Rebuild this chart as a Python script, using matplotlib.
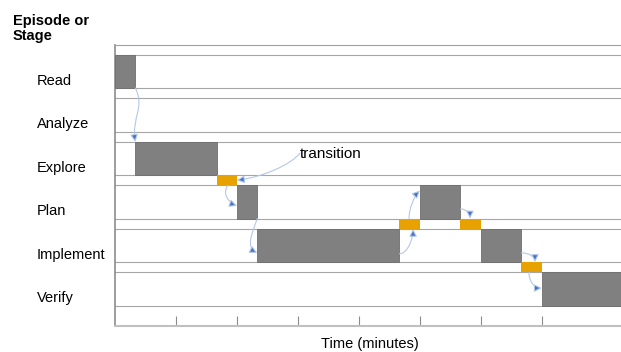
import numpy as np
import matplotlib.pyplot as plt
from matplotlib.patches import FancyArrowPatch
from matplotlib.path import Path

plt.rcParams['font.family'] = ['Liberation Sans', 'DejaVu Sans']

stages = ['Read', 'Analyze', 'Explore', 'Plan', 'Implement', 'Verify']

# episodes spent inside a stage (minutes)
ep_stage = ['Read', 'Explore', 'Plan', 'Implement', 'Plan', 'Implement', 'Verify']
ep_start = [0, 1, 6, 7, 15, 18, 21]
ep_dur = [1, 4, 1, 7, 2, 2, 4]

# transitions between two stages
tr_from = ['Explore', 'Implement', 'Plan', 'Implement']
tr_to = ['Plan', 'Plan', 'Implement', 'Verify']
tr_start = [5, 14, 17, 20]
tr_dur = [1, 1, 1, 1]

x_max = 25
tick_step = 3

BAR_H = 0.76
TR_H = 0.24
GRAY = '#808080'
ORANGE = '#E8A200'
LINE_C = '#b4c7e7'
HEAD_C = '#4472c4'

fig = plt.figure(figsize=(6.21, 3.52), dpi=100)
ax = fig.add_axes([115 / 621, 26 / 352, 508 / 621, 281 / 352])

row = {s: i for i, s in enumerate(stages)}

# band edges
for i in range(len(stages)):
    for e in (i - BAR_H / 2, i + BAR_H / 2):
        ax.axhline(e, color='#a6a6a6', lw=0.8, zorder=1)

# timeline of all segments, in time order
segs = []
for s, st, d in zip(ep_stage, ep_start, ep_dur):
    segs.append((st, row[s], d, BAR_H))
for a, b, st, d in zip(tr_from, tr_to, tr_start, tr_dur):
    segs.append((st, (row[a] + row[b]) / 2, d, TR_H))
segs.sort()

for st, y, d, h in segs:
    if h == BAR_H:
        ax.barh(y, d, left=st, height=h, color=GRAY, edgecolor='#6e6e6e',
                lw=0.6, zorder=3)
    else:
        ax.barh(y, d, left=st, height=h, color=ORANGE, lw=0, zorder=3)


def anchor(k, side, p):
    st, y, d, h = segs[k]
    if side == 'top':
        return st + p * d, y - h / 2
    if side == 'bottom':
        return st + p * d, y + h / 2
    if side == 'left':
        return st, y + p
    return st + d, y + p


def curve(p0, p3, c1, c2):
    # control offsets are in image pixels (y down)
    to_px = ax.transData.transform
    to_dat = ax.transData.inverted().transform
    a = to_px(p0)
    b = to_px(p3)
    q1 = to_dat(a + np.array([c1[0], -c1[1]]))
    q2 = to_dat(b + np.array([c2[0], -c2[1]]))
    path = Path([p0, q1, q2, p3],
                [Path.MOVETO, Path.CURVE4, Path.CURVE4, Path.CURVE4])
    arr = FancyArrowPatch(path=path, arrowstyle='-|>,head_length=0.55,head_width=0.28',
                          mutation_scale=8, edgecolor=LINE_C, facecolor=HEAD_C,
                          lw=0.8, zorder=4)
    ax.add_patch(arr)


ax.set_xlim(0, x_max)
ax.set_ylim(5.851, -0.609)

links = [
    (0, 'bottom', 1.0, 1, 'top', 0.0, (10, 20), (-4, -25)),
    (2, 'bottom', 0.55, 3, 'left', 0.09, (-6, 8), (-8, -3)),
    (3, 'bottom', 1.0, 4, 'left', 0.17, (-5, 15), (-12, -6)),
    (4, 'right', 0.19, 5, 'bottom', 0.67, (8, 0), (0, 10)),
    (5, 'top', 0.47, 6, 'left', -0.26, (0, -10), (-6, 6)),
    (6, 'right', 0.16, 7, 'top', 0.47, (6, 0), (0, -5)),
    (8, 'right', 0.17, 9, 'top', 0.67, (8, 0), (0, -5)),
    (9, 'bottom', 0.37, 10, 'left', -0.02, (0, 8), (-8, 0)),
]
for a, sa, pa, b, sb, pb, c1, c2 in links:
    curve(anchor(a, sa, pa), anchor(b, sb, pb), c1, c2)

# "transition" callout
lab_x, lab_y = 9.1, 2.0
ax.text(lab_x, lab_y, 'transition', fontsize=11, ha='left', va='baseline', zorder=5)
curve((lab_x, lab_y - 0.12), anchor(2, 'right', 0.0), (-10, 12), (25, -3))

# stage labels
for s, i in row.items():
    ax.text(-0.1535, i + 0.3, s, transform=ax.get_yaxis_transform(),
            fontsize=10.5, ha='left', va='baseline')

fig.text(13 / 621, 1 - 40 / 352, 'Episode or\nStage', fontsize=10.5,
         fontweight='bold', ha='left', va='baseline', linespacing=1.13)
fig.text(369.5 / 621, 4 / 352, 'Time (minutes)', fontsize=10.5,
         ha='center', va='baseline')

ax.set_xticks(np.arange(tick_step, x_max - tick_step, tick_step))
ax.set_yticks([])
ax.tick_params(axis='x', direction='in', length=7.2, width=0.8,
               color='#8c8c8c', labelbottom=False)
ax.spines['right'].set_visible(False)
ax.spines['top'].set_color('#a0a0a0')
ax.spines['top'].set_linewidth(0.8)
ax.spines['left'].set_color('#8c8c8c')
ax.spines['left'].set_linewidth(1.2)
ax.spines['bottom'].set_color('#c0c0c0')
ax.spines['bottom'].set_linewidth(1.5)

fig.savefig('out.png', dpi=100)
